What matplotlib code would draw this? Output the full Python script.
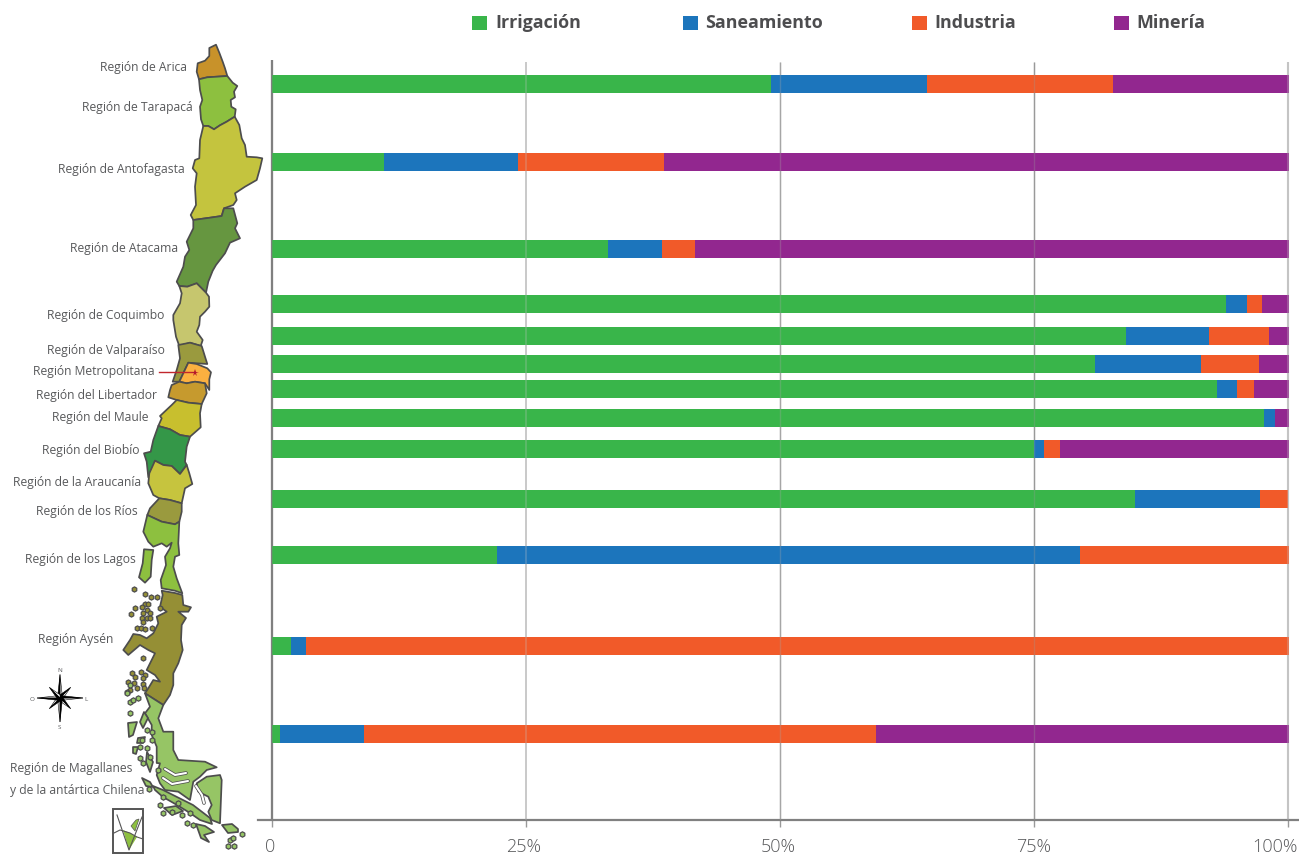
import matplotlib
matplotlib.use('Agg')
import matplotlib.pyplot as plt
from matplotlib.patches import Polygon, Rectangle
from matplotlib.transforms import ScaledTranslation
import numpy as np

plt.rcParams['font.family'] = ['Open Sans', 'DejaVu Sans']

# share of water use per bar, top to bottom (%)
irrigacion = [49.1, 11.0, 33.1, 93.9, 84.1, 81.0, 93.0, 97.6, 75.0, 84.9, 22.1, 1.9, 0.8]
saneamiento = [15.4, 13.2, 5.3, 2.1, 8.1, 10.4, 2.0, 1.1, 1.0, 12.3, 57.4, 1.4, 8.3]
industria = [18.3, 14.4, 3.2, 1.4, 5.9, 5.7, 1.7, 0.0, 1.6, 2.8, 20.6, 96.8, 50.3]
mineria = [17.3, 61.5, 58.5, 2.7, 2.0, 3.0, 3.4, 1.4, 22.5, 0.0, 0.0, 0.0, 40.7]

series_names = ['Irrigación', 'Saneamiento', 'Industria', 'Minería']
series_colors = ['#39b54a', '#1c75bc', '#f15a29', '#92278f']
legend_box_x = [472, 683, 912, 1114]
legend_text_x = [495, 705, 934, 1136]

# bar rows sit next to their region on the map, so they are not evenly spaced
row_y = [84, 162, 249, 304, 336, 364, 389, 418, 449, 499, 555, 646, 734]

tick_values = [0, 25, 50, 75, 100]
tick_labels = ['0', '25%', '50%', '75%', '100%']
tick_shift = [-2, -2, -2, 0, -13]
grid_colors = ['#808080', '#c4c4c4', '#a6a6a6', '#999999', '#c4c4c4']
grid_widths = [1.6, 1.2, 1.0, 1.0, 1.5]

region_labels = ['Región de Arica', 'Región de Tarapacá', 'Región de Antofagasta',
                 'Región de Atacama', 'Región de Coquimbo', 'Región de Valparaíso',
                 'Región Metropolitana', 'Región del Libertador', 'Región del Maule',
                 'Región del Biobío', 'Región de la Araucanía', 'Región de los Ríos',
                 'Región de los Lagos', 'Región Aysén', 'Región de Magallanes',
                 'y de la antártica Chilena']
label_x = [100, 82, 58, 70, 47, 47, 33, 36, 52, 42, 13, 36, 25, 38, 10, 10]
label_y = [67, 108, 170, 248, 315, 350, 371, 395, 417, 450, 482, 511, 559, 639, 768, 790]

# map outlines, in picture pixels
arica = [(216, 44.7), (209.3, 48), (209.3, 56), (205, 60.7), (197.7, 63.3), (196.7, 71.7), (199, 79.3),
         (207.3, 77.3), (216.7, 76.7), (227.3, 76), (225, 68.3), (222.7, 61.7), (219.3, 52.7)]
tarapaca = [(199, 79.3), (207.3, 77.3), (216.7, 76.7), (227.3, 76), (232.7, 82.7), (237.3, 86), (234, 91.7),
            (235, 97.3), (230.7, 100), (231.3, 106.7), (235.7, 109.3), (234.7, 116.7), (226.7, 121.7),
            (220, 125.3), (214, 129.3), (208.3, 126), (203.3, 126), (201, 119.3), (200, 106.7),
            (202.3, 100), (200, 90)]
antofagasta = [(203.3, 126), (208.3, 126), (214, 129.3), (220, 125.3), (226.7, 121.7), (234.7, 116.7),
               (239.3, 125), (241.7, 138.3), (245, 145), (246.7, 156.7), (256.7, 157.3), (262.3, 158.3),
               (260, 168.3), (256.7, 180), (245, 186.7), (235, 193.3), (236.7, 200), (233.3, 205),
               (224, 208.3), (221.7, 216), (210, 217.7), (193.3, 220), (190.7, 215), (196, 205),
               (195, 186.7), (196.7, 173.3), (192.7, 168.3), (195, 160), (199.3, 158.3), (200, 140)]
atacama = [(193.3, 220), (210, 217.7), (221.7, 216), (224, 208.3), (233.3, 208.3), (237.3, 223.3),
           (235, 228.3), (240, 238.3), (230, 242.7), (225, 253.3), (216, 265), (212.7, 270.7),
           (208.3, 281.7), (206, 292.7), (196.7, 283.3), (187.3, 286.7), (179.3, 286), (176.7, 281.7),
           (183.3, 266.7), (185, 256.7), (189.3, 250), (186.7, 241.7), (193.3, 228.3)]
coquimbo = [(179.3, 286), (187.3, 286.7), (196.7, 283.3), (206, 292.7), (209, 296.7), (209.3, 306.7),
            (205, 311.7), (200, 316.7), (199.3, 325), (196.7, 331.7), (202.7, 340), (200.7, 346),
            (190, 342.7), (179.3, 346), (176, 336.7), (173.3, 320), (173.3, 315), (180, 303.3), (181.7, 293.3)]
valparaiso = [(178.3, 345), (190, 342.7), (201.7, 346), (205, 356.7), (207.3, 364), (188.3, 362.7),
              (183.3, 373.3), (179.3, 381.7), (172.7, 381.7), (176.7, 370), (180, 358.3)]
metropolitana = [(188.3, 362.7), (196.7, 364), (207.3, 368.3), (211, 372.3), (209.3, 379.3), (209.3, 390),
                 (205, 383.3), (195, 381.7), (186.7, 383.3), (179.3, 381.7), (183.3, 373.3)]
libertador = [(171.7, 385), (179.3, 381.7), (186.7, 383.3), (195, 381.7), (205, 383.3), (206.7, 393.3),
              (201.7, 404), (188.3, 402.7), (176.7, 400), (168.3, 397.3), (170, 390)]
maule = [(176.7, 400), (188.3, 402.7), (201.7, 404), (200, 413.3), (200.7, 427.3), (190, 436.7), (180, 435),
         (170, 429.3), (158.3, 426), (161.7, 418.3), (160, 416), (171.7, 405)]
biobio = [(158.3, 426), (170, 429.3), (180, 435), (190, 436.7), (186.7, 446.7), (185, 461.7), (186.7, 465),
          (180, 474), (171.7, 466), (163.3, 465), (155, 460.7), (151.7, 471.7), (148.3, 477.3),
          (146.7, 461.7), (144, 453.3), (150.7, 451.7), (153.3, 440)]
araucania = [(155, 460.7), (163.3, 465), (171.7, 466), (180, 474), (186.7, 465), (189.3, 473.3), (192.3, 484),
             (185, 488.3), (181.7, 503.3), (170, 500), (159.3, 498.3), (153.3, 495), (148.3, 483.3), (149.3, 473.3)]
los_rios = [(159.3, 498.3), (170, 500), (181.7, 503.3), (181.7, 511.7), (179.3, 521.7), (175, 524.3),
            (161.7, 521.7), (147.3, 515), (150, 508.3)]
los_lagos = [(147.3, 515), (161.7, 521.7), (175, 524.3), (179.3, 521.7), (178.3, 543.3), (179.3, 555),
             (175, 556.7), (173.3, 566.7), (176.7, 578.3), (182.3, 593.3), (175, 590.7), (161.7, 588.3),
             (160.7, 580), (166, 565), (165, 556.7), (170, 548.3), (171.7, 542.7), (166.7, 546.7),
             (161.7, 543.3), (153.3, 546.7), (148.3, 541.7), (143.3, 531.7)]
chiloe = [(144, 549.3), (153.3, 550), (151.7, 560), (150.7, 576.7), (145, 582.7), (139, 577.3), (142.7, 563.3)]
aysen = [(161.7, 590.7), (175, 593), (182.3, 595), (183.3, 605), (191, 607.3), (188.3, 611.7), (178.3, 611.7),
         (186, 618), (181.7, 625), (181, 640), (182.7, 650), (178.3, 663.3), (173.3, 673.3), (173.3, 685),
         (170, 695), (163.3, 705), (145, 693.3), (148.3, 688.3), (153.3, 680), (160, 681.7), (155, 675),
         (146.7, 670), (155, 653.3), (148.3, 650), (140, 645), (128.3, 655), (123.3, 650), (130, 640),
         (133.3, 634), (140, 635), (146.7, 638.3), (153.3, 633.3), (158.3, 623.3), (156.7, 616.7),
         (166.7, 611.7), (160, 606.7), (162.7, 595)]
magallanes = [(145, 693.3), (163.3, 705), (158.3, 718.3), (163.3, 731.7), (173.3, 731.7), (173.3, 750),
              (178.3, 760), (205, 761.7), (216.7, 767.3), (206.7, 770), (200, 776.7), (193.3, 781.7),
              (190, 800), (178.3, 791.7), (165, 790), (160, 783.3), (156.7, 775), (160, 763.3),
              (156.7, 763), (156.7, 746.7), (151.7, 735), (151.7, 725), (145, 713.3), (150, 706.7)]
fuego = [(206.7, 776.7), (220, 775), (221.7, 780), (220, 823.3), (211.7, 820), (208.3, 811.7), (211.7, 805),
         (208.3, 796.7), (198.3, 791.7), (196.7, 783.3)]
south_strip = [(153, 786), (163, 790), (177, 797), (193, 805), (210, 818), (212, 824), (200, 820), (190, 813),
               (177, 805), (163, 797), (155, 790)]
south_big = [(222, 825), (232, 824), (238, 829), (238, 832), (228, 833)]
south_long = [(142, 778), (150, 782), (153, 787), (146, 786)]
west_a = [(128, 723), (137, 722), (133, 735), (129, 737)]
west_b = [(138, 738), (145, 737), (143, 743), (137, 743)]
west_c = [(133, 747), (138, 747), (136, 754), (133, 753)]
west_d = [(144, 712), (148, 718), (143, 728), (140, 722)]
west_e = [(147, 752), (153, 762), (150, 772), (146, 762)]
west_f = [(164, 808), (176, 806), (183, 811), (172, 815)]
west_g = [(196, 824), (205, 826), (214, 832), (204, 835), (209, 842), (201, 838)]

green = '#96c565'
map_shapes = [(arica, '#c8922a'), (tarapaca, '#8dc03f'), (antofagasta, '#c4c43e'), (atacama, '#669640'),
              (coquimbo, '#c6c66e'), (valparaiso, '#9a9a3e'), (metropolitana, '#fbb040'), (libertador, '#c69a2e'),
              (maule, '#c8bf2e'), (biobio, '#349748'), (araucania, '#c6c43e'), (los_rios, '#9a9a3e'),
              (los_lagos, '#8dc03f'), (chiloe, '#8dc03f'), (aysen, '#958f35'), (magallanes, green),
              (fuego, green), (south_strip, green), (south_big, green), (south_long, green), (west_a, green),
              (west_b, green), (west_c, green), (west_d, green), (west_e, green), (west_f, green), (west_g, green)]

channels = [[(165, 769), (175, 775), (186, 773)], [(163, 778), (172, 784), (188, 781)], [(196, 786), (202, 795), (204, 803)]]

aysen_isles = [(134, 589), (145, 594), (151, 597), (157, 597), (135, 608), (131, 614), (145, 604), (142, 607),
               (148, 604), (147, 610), (150, 613), (143, 613), (142, 618), (147, 618), (150, 618), (143, 622),
               (137, 628), (141, 628), (145, 629), (152, 628), (160, 608), (143, 658), (132, 673), (141, 672),
               (145, 675), (135, 677), (143, 678), (128, 682), (134, 683), (143, 684), (130, 690), (137, 688),
               (144, 688), (127, 692)]
south_isles = [(127, 693), (130, 685), (130, 702), (133, 700), (138, 698), (130, 713), (147, 730), (152, 732),
               (142, 740), (152, 740), (147, 748), (140, 747), (140, 758), (143, 763), (150, 757), (158, 770),
               (149, 789), (163, 813), (172, 812), (160, 805), (163, 797), (178, 803), (182, 815), (190, 813),
               (187, 823), (193, 825), (230, 840), (233, 838), (242, 834), (228, 846), (234, 846)]

TEXT_COLOR = '#58595b'
EDGE_COLOR = '#4d4d4d'
WIDTH, HEIGHT = 1299, 855

fig = plt.figure(figsize=(WIDTH / 100, HEIGHT / 100), dpi=100)


def page_axes(left, top, right, bottom):
    return fig.add_axes([left / WIDTH, 1 - bottom / HEIGHT, (right - left) / WIDTH, (bottom - top) / HEIGHT])


# map, labels and legend share one axes in picture pixels
page = page_axes(0, 0, WIDTH, HEIGHT)
page.set_xlim(0, WIDTH)
page.set_ylim(HEIGHT, 0)
page.axis('off')

for pts, color in map_shapes:
    page.add_patch(Polygon(pts, closed=True, facecolor=color, edgecolor=EDGE_COLOR, linewidth=1.25, joinstyle='round'))
for line in channels:
    xs, ys = zip(*line)
    page.plot(xs, ys, color=EDGE_COLOR, lw=2.6, solid_capstyle='round')
    page.plot(xs, ys, color='white', lw=1.5, solid_capstyle='round')

xs, ys = zip(*aysen_isles)
page.scatter(xs, ys, s=14, marker='h', facecolor='#958f35', edgecolor=EDGE_COLOR, linewidth=0.9)
xs, ys = zip(*south_isles)
page.scatter(xs, ys, s=15, marker='h', facecolor=green, edgecolor=EDGE_COLOR, linewidth=0.9)

# Santiago marker
page.plot([159, 195], [372.5, 372.5], color='#c1272d', lw=1)
page.plot([195], [373], marker='*', color='#b5182b', ms=5.5, mew=0)

for name, x, y in zip(region_labels, label_x, label_y):
    page.text(x, y, name, ha='left', va='center', fontsize=8.7, color=TEXT_COLOR)

# legend
for name, color, bx, tx in zip(series_names, series_colors, legend_box_x, legend_text_x):
    page.add_patch(Rectangle((bx, 16), 15, 14, facecolor=color, edgecolor='none'))
    page.text(tx, 23, name, ha='left', va='center', fontsize=12.9, fontweight='bold', color='#4d4d4f')

# compass
cx, cy = 60, 698
for ang, reach in zip(np.arange(0, 360, 45), [23.5, 15, 23, 15, 24, 15, 23, 15]):
    a = np.radians(ang)
    tip = (cx + reach * np.sin(a), cy - reach * np.cos(a))
    side = (cx + 3.2 * np.sin(a + np.pi / 4), cy - 3.2 * np.cos(a + np.pi / 4))
    other = (cx + 3.2 * np.sin(a - np.pi / 4), cy - 3.2 * np.cos(a - np.pi / 4))
    page.add_patch(Polygon([(cx, cy), tip, side], facecolor='white', edgecolor='black', linewidth=0.4, zorder=4))
    page.add_patch(Polygon([(cx, cy), tip, other], facecolor='black', edgecolor='black', linewidth=0.4, zorder=4))
for letter, x, y in [('N', 59.5, 670), ('S', 59, 727), ('O', 32, 699), ('L', 86, 699)]:
    page.text(x, y, letter, ha='center', va='center', fontsize=4.5, color=TEXT_COLOR)

# locator inset
page.add_patch(Rectangle((113, 809), 30, 44, facecolor='white', edgecolor='#555555', linewidth=1.4))
page.add_patch(Polygon([(123, 830), (129, 850), (137, 837), (130, 833)], facecolor='#8dc03f', edgecolor='none'))
page.plot([117, 129, 142], [815, 850, 817], color='#555555', lw=0.8)
page.plot([114, 120, 130, 137, 143], [833, 830, 833, 837, 839], color='#555555', lw=0.8)
page.add_patch(Polygon([(131, 826), (136, 820), (139, 819), (135, 831)], facecolor='#8dc03f', edgecolor='#555555', linewidth=0.5))

# stacked bars
ax = page_axes(258, 60, WIDTH, 820)
ax.patch.set_alpha(0)
ax.set_xlim(-14 / 10.16, (WIDTH - 272) / 10.16)
ax.set_ylim(820, 60)

left = np.zeros(len(row_y))
for values, color, name in zip([irrigacion, saneamiento, industria, mineria], series_colors, series_names):
    ax.barh(row_y, values, height=18, left=left, color=color, label=name, zorder=2, linewidth=0)
    left += np.array(values)

# grid sits behind the bars and shows faintly through them
for val, color, lw in zip(tick_values, grid_colors, grid_widths):
    top = 60 if val == 0 else 62
    ax.vlines(val, top, 820, color=color, lw=lw, zorder=1)
    ax.vlines(val, top, 820, color=color, lw=lw, zorder=3, alpha=0.3)

for side in ['top', 'left', 'right']:
    ax.spines[side].set_visible(False)
ax.spines['bottom'].set_color('#808080')
ax.spines['bottom'].set_linewidth(1.6)
ax.set_yticks([])
ax.set_xticks(tick_values)
ax.set_xticklabels(tick_labels)
ax.tick_params(axis='x', length=5, width=1, color='#999999', pad=8, labelsize=13, labelcolor=TEXT_COLOR)
for lab, shift in zip(ax.get_xticklabels(), tick_shift):
    lab.set_transform(lab.get_transform() + ScaledTranslation(shift / 100, 0, fig.dpi_scale_trans))
    lab.set_fontweight('light')

fig.savefig('out.png', dpi=100)
